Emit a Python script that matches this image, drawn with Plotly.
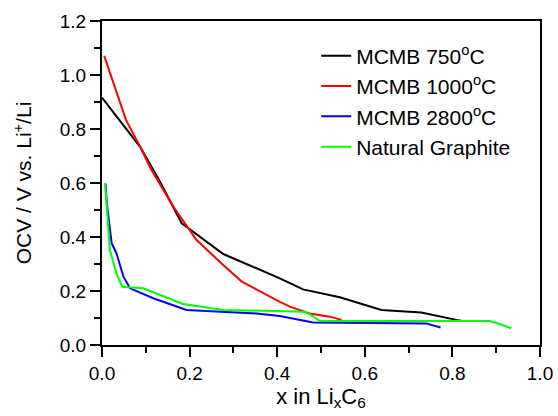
import plotly.graph_objects as go

# MCMB 750°C
x_750 = [0.0, 0.087, 0.13, 0.182, 0.277, 0.406, 0.459, 0.543, 0.638, 0.729, 0.809, 0.82]
y_750 = [0.916, 0.734, 0.612, 0.451, 0.337, 0.247, 0.206, 0.177, 0.130, 0.120, 0.093, 0.090]

# MCMB 1000°C
x_1000 = [0.005, 0.055, 0.087, 0.113, 0.163, 0.2, 0.216, 0.273, 0.319, 0.406, 0.429, 0.474, 0.52, 0.547]
y_1000 = [1.071, 0.833, 0.734, 0.648, 0.512, 0.426, 0.389, 0.302, 0.235, 0.160, 0.142, 0.117, 0.105, 0.093]

# MCMB 2800°C
x_2800 = [0.008, 0.011, 0.022, 0.033, 0.049, 0.064, 0.117, 0.193, 0.353, 0.406, 0.482, 0.74, 0.773]
y_2800 = [0.599, 0.525, 0.377, 0.340, 0.253, 0.210, 0.173, 0.130, 0.117, 0.107, 0.083, 0.080, 0.065]

# Natural Graphite
x_ng = [0.007, 0.018, 0.033, 0.046, 0.094, 0.125, 0.185, 0.277, 0.368, 0.429, 0.463, 0.478, 0.497, 0.885, 0.908, 0.934]
y_ng = [0.599, 0.352, 0.265, 0.216, 0.210, 0.191, 0.152, 0.130, 0.127, 0.123, 0.123, 0.111, 0.089, 0.089, 0.078, 0.062]

names = ["MCMB 750<sup>o</sup>C", "MCMB 1000<sup>o</sup>C", "MCMB 2800<sup>o</sup>C", "Natural Graphite"]
colors = ["#000000", "#FF0000", "#0000FF", "#00FF00"]

x_ticks = [0.0, 0.2, 0.4, 0.6, 0.8, 1.0]
y_ticks = [0.0, 0.2, 0.4, 0.6, 0.8, 1.0, 1.2]

FONT = "Liberation Sans, Arial, sans-serif"

fig = go.Figure()
for xs, ys, nm, c in zip([x_750, x_1000, x_2800, x_ng], [y_750, y_1000, y_2800, y_ng], names, colors):
    fig.add_trace(go.Scatter(x=xs, y=ys, mode="lines", name=nm,
                             line=dict(color=c, width=2)))

axis_common = dict(
    showgrid=False, zeroline=False, showline=True, linecolor="black", linewidth=2,
    mirror=True, ticks="outside", ticklen=10, tickwidth=2, tickcolor="black",
    automargin=False,
    tickfont=dict(family=FONT, size=19, color="black"),
    minor=dict(ticks="outside", ticklen=6, tickwidth=2, tickcolor="black", showgrid=False),
)

fig.update_xaxes(range=[0, 1.0], tickvals=x_ticks, ticktext=[f"{v:.1f}" for v in x_ticks],
                 minor_dtick=0.1, minor_tick0=0,
                 title=dict(text="x in Li<sub>x</sub>C<sub>6</sub>", font=dict(family=FONT, size=22, color="black"), standoff=4),
                 **axis_common)
fig.update_yaxes(range=[0, 1.2], tickvals=y_ticks, ticktext=[f"{v:.1f}" for v in y_ticks],
                 minor_dtick=0.1, minor_tick0=0,
                 title=dict(text="OCV / V vs. Li<sup>+</sup>/Li", font=dict(family=FONT, size=21, color="black"), standoff=22),
                 **axis_common)

fig.update_layout(
    width=558, height=416,
    margin=dict(l=102, r=18, t=21, b=71),
    paper_bgcolor="white", plot_bgcolor="white",
    font=dict(family=FONT, color="black"),
    legend=dict(x=0.489, y=0.955, xanchor="left", yanchor="top",
                font=dict(family=FONT, size=21, color="black"),
                bgcolor="rgba(0,0,0,0)", borderwidth=0),
)

fig.write_html("out.html", config={"displayModeBar": False},
               post_script="document.body.style.margin='0';document.body.style.overflow='hidden';")
